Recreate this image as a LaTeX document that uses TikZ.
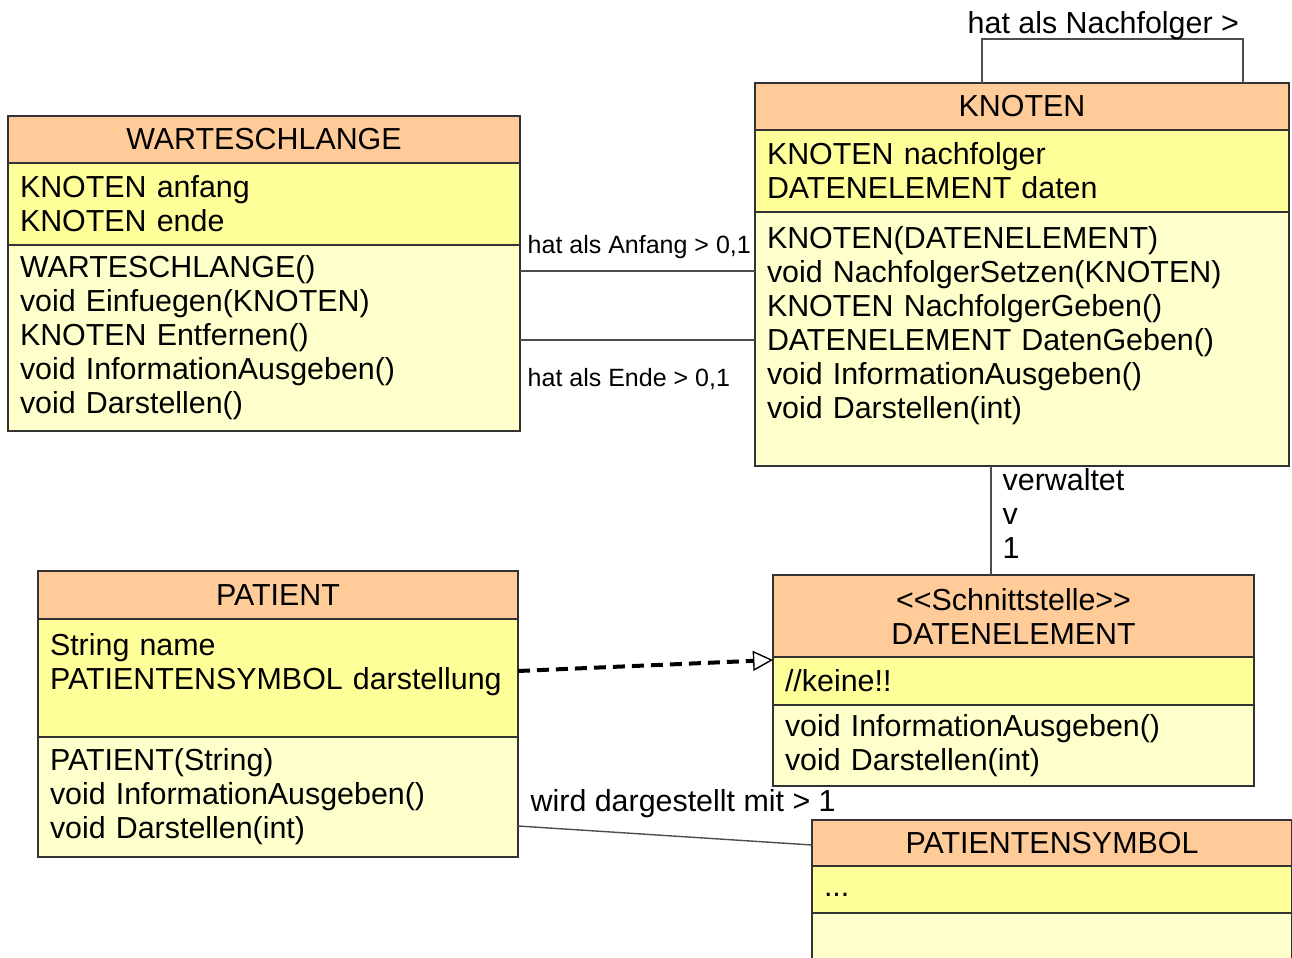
\documentclass[tikz,border=0pt]{standalone}
\usepackage{fontspec}
\setmainfont{Liberation Sans}
\usepackage{tikz}
\usetikzlibrary{arrows.meta, positioning}
\definecolor{headorange}{HTML}{FFCC99}
\definecolor{attryellow}{HTML}{FFFF99}
\definecolor{methyellow}{HTML}{FFFFCC}
\definecolor{boxline}{HTML}{333333}
\definecolor{connline}{HTML}{4D4D4D}
\newcommand{\umlfont}{\fontsize{15.2pt}{17pt}\selectfont}
\newcommand{\assocfont}{\fontsize{12.5pt}{15pt}\selectfont}

\begin{document}
\begin{tikzpicture}[
    x=0.5pt, y=-0.5pt,
    umlpart/.style={rectangle, draw=boxline, line width=0.8pt, outer sep=0pt, inner xsep=6pt, inner ysep=3pt, text width=#1, font=\umlfont},
    umlhead/.style={umlpart=#1, fill=headorange, align=center},
    umlattr/.style={umlpart=#1, fill=attryellow, align=left},
    umlmeth/.style={umlpart=#1, fill=methyellow, align=left},
    line/.style={draw=connline, line width=0.7pt},
    realize/.style={draw=black, line width=2pt, dash pattern=on 6pt off 3.5pt, -{Triangle[open, length=10pt, width=10pt, line width=0.7pt]}},
    assoclabel/.style={inner sep=0pt, font=\umlfont},
    smalllabel/.style={assoclabel, font=\assocfont}
]

    \useasboundingbox (0,0) rectangle (1292,958);
    \clip (0,0) rectangle (1292,958);

    \node [umlhead=244pt, minimum height=23.5pt, anchor=north west] (wslhead) at (8,116) {WARTESCHLANGE};
    \node [umlattr=244pt, minimum height=41pt, below=0pt of wslhead] (wslattr) {KNOTEN anfang\\KNOTEN ende};
    \node [umlmeth=244pt, minimum height=93pt, below=0pt of wslattr] (wslmeth) {WARTESCHLANGE()\\void Einfuegen(KNOTEN)\\KNOTEN Entfernen()\\void InformationAusgeben()\\void Darstellen()};

    \node [umlhead=255pt, minimum height=23.5pt, anchor=north west] (knthead) at (755,83) {KNOTEN};
    \node [umlattr=255pt, minimum height=41pt, below=0pt of knthead] (kntattr) {KNOTEN nachfolger\\DATENELEMENT daten};
    \node [umlmeth=255pt, minimum height=127pt, below=0pt of kntattr] (kntmeth) {KNOTEN(DATENELEMENT)\\void NachfolgerSetzen(KNOTEN)\\KNOTEN NachfolgerGeben()\\DATENELEMENT DatenGeben()\\void InformationAusgeben()\\void Darstellen(int)\\\mbox{}};

    \node [umlhead=228pt, minimum height=24pt, anchor=north west] (pathead) at (38,571) {PATIENT};
    \node [umlattr=228pt, minimum height=59pt, below=0pt of pathead] (patattr) {String name\\\mbox{PATIENTENSYMBOL darstellung}\\\mbox{}};
    \node [umlmeth=228pt, minimum height=60pt, below=0pt of patattr] (patmeth) {PATIENT(String)\\void InformationAusgeben()\\void Darstellen(int)};

    \node [umlhead=228.5pt, minimum height=41pt, anchor=north west] (dathead) at (773,575) {\textless\kern0pt\textless Schnittstelle\textgreater\kern0pt\textgreater\\DATENELEMENT};
    \node [umlattr=228.5pt, minimum height=24pt, below=0pt of dathead] (datattr) {//keine!!};
    \node [umlmeth=228.5pt, minimum height=40.5pt, below=0pt of datattr] (datmeth) {void InformationAusgeben()\\void Darstellen(int)};

    \node [umlhead=228pt, minimum height=23pt, anchor=north west] (symhead) at (812,820) {PATIENTENSYMBOL};
    \node [umlattr=228pt, minimum height=23.5pt, below=0pt of symhead] (symattr) {\strut...};
    \node [umlmeth=228pt, minimum height=30pt, below=0pt of symattr] (symmeth) {};

    \coordinate (anfA) at ([yshift=-13pt]wslmeth.north east);
    \draw [line] (anfA) -- node[smalllabel, pos=0, anchor=base west, xshift=3.5pt, yshift=9pt] {hat als Anfang > 0,1} (anfA -| kntmeth.west);

    \coordinate (endA) at ([yshift=-47.5pt]wslmeth.north east);
    \draw [line] (endA) -- node[smalllabel, pos=0, anchor=base west, xshift=3.5pt, yshift=-23pt] {hat als Ende > 0,1} (endA -| kntmeth.west);

    \coordinate (nfA) at ([xshift=113.5pt]knthead.north west);
    \coordinate (nfB) at ([xshift=244pt]knthead.north west);
    \draw [line] (nfA) -- ++(0,-44) node[assoclabel, anchor=base west, xshift=-7.5pt, yshift=3pt] {hat als Nachfolger >} -| (nfB);

    \coordinate (vwA) at ([xshift=118pt]kntmeth.south west);
    \draw [line] (vwA) -- node[assoclabel, pos=0, anchor=north west, align=left, xshift=5.5pt, yshift=-1pt] {verwaltet\\v\\1} (vwA |- dathead.north);

    \coordinate (realA) at ([yshift=-26pt]patattr.north east);
    \draw [realize] (realA) -- ([yshift=-1.5pt]datattr.north west);

    \coordinate (darA) at ([yshift=-44.5pt]patmeth.north east);
    \draw [line] (darA) -- node[assoclabel, pos=0, anchor=base west, xshift=6pt, yshift=7.5pt] {wird dargestellt mit > 1} ([yshift=-12.5pt]symhead.north west);

\end{tikzpicture}
\end{document}
